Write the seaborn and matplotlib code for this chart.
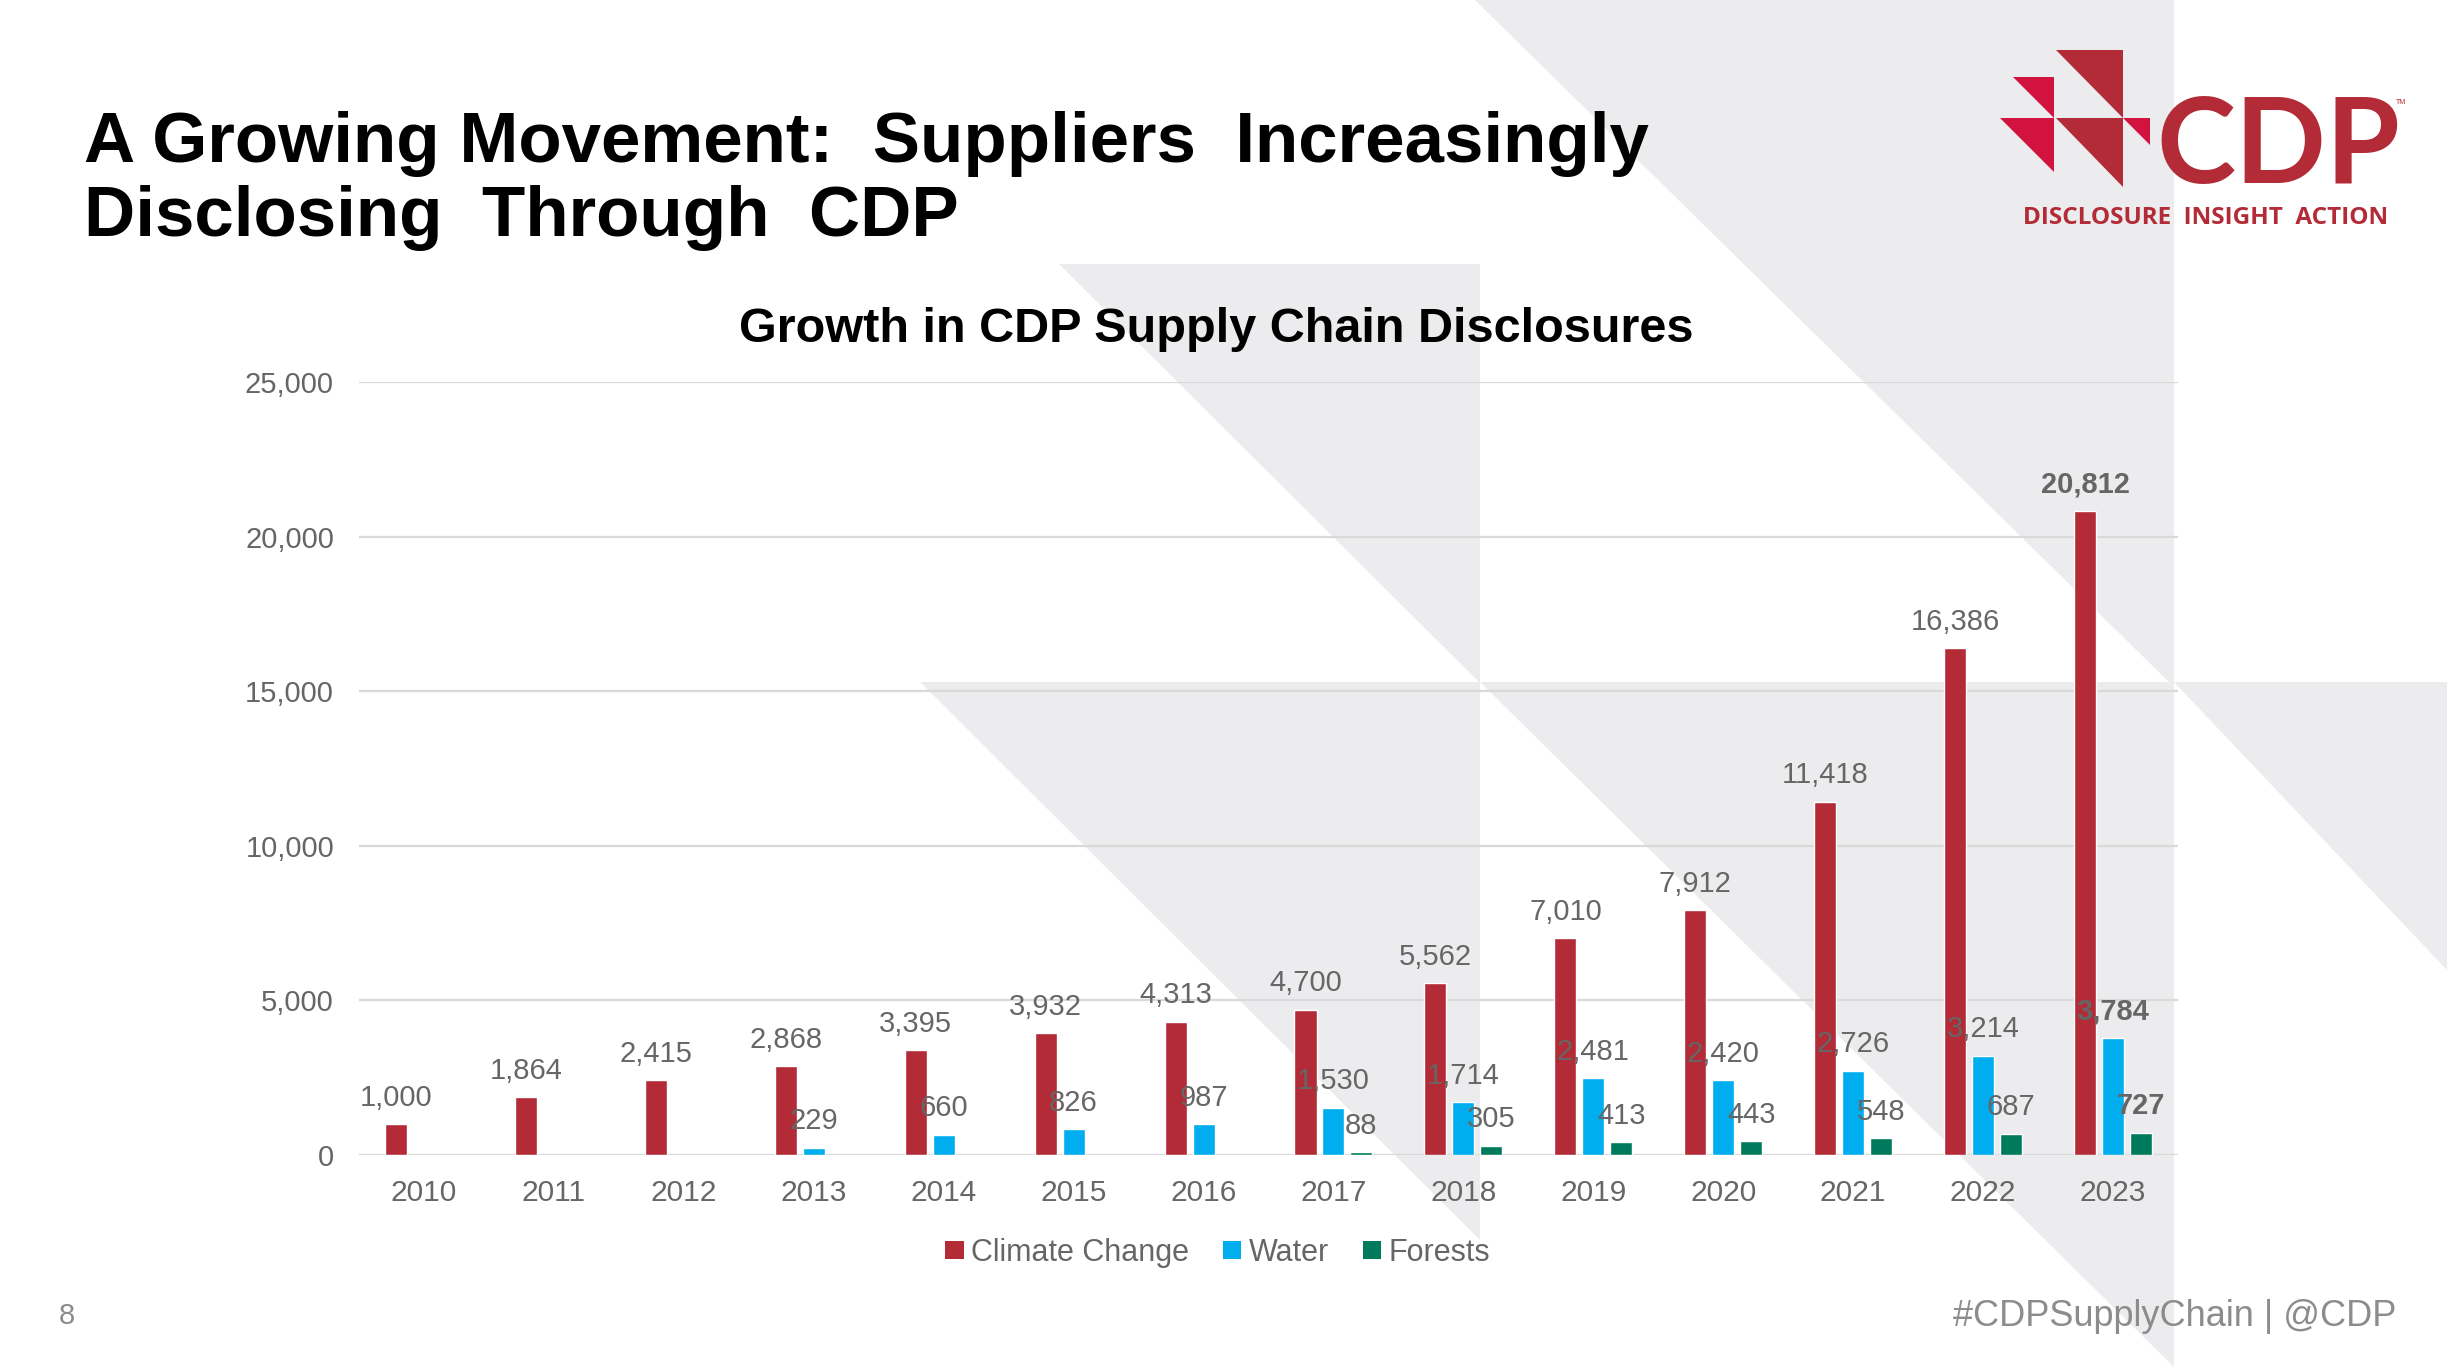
import matplotlib
matplotlib.use('Agg')
import matplotlib.pyplot as plt
from matplotlib import font_manager
from matplotlib.patches import Polygon, Patch
from matplotlib.ticker import FuncFormatter
import seaborn as sns
import pandas as pd

# Data
years = [str(y) for y in range(2010, 2024)]
climate_change = [1000, 1864, 2415, 2868, 3395, 3932, 4313, 4700, 5562, 7010, 7912, 11418, 16386, 20812]
water = [None, None, None, 229, 660, 826, 987, 1530, 1714, 2481, 2420, 2726, 3214, 3784]
forests = [None, None, None, None, None, None, None, 88, 305, 413, 443, 548, 687, 727]
series_names = ['Climate Change', 'Water', 'Forests']
colors = {'Climate Change': '#b22b36', 'Water': '#00aeef', 'Forests': '#007a5c'}

rows = []
for name, vals in zip(series_names, [climate_change, water, forests]):
    for yr, v in zip(years, vals):
        if v is not None:
            rows.append({'year': yr, 'series': name, 'count': v})
df = pd.DataFrame(rows)

sns.set_style('white')
names = {f.name for f in font_manager.fontManager.ttflist}
NARROW = 'Liberation Sans Narrow' if 'Liberation Sans Narrow' in names else 'Liberation Sans'
plt.rcParams['font.family'] = [NARROW, 'DejaVu Sans']

W, H = 2447, 1367
fig = plt.figure(figsize=(W / 100, H / 100), dpi=100)
fig.patch.set_facecolor('white')

# background decoration, pixel coordinates
bg = fig.add_axes([0, 0, 1, 1], zorder=0)
bg.set_xlim(0, W)
bg.set_ylim(H, 0)
bg.axis('off')
gray = '#ececee'
for tri in [
    [(1475, 0), (2174, 0), (2174, 687)],
    [(1059, 264), (1480, 264), (1480, 683)],
    [(920, 682), (1480, 682), (1480, 1240)],
    [(1480, 682), (2174, 682), (2174, 1367)],
    [(2174, 682), (2447, 682), (2447, 970)],
]:
    bg.add_patch(Polygon(tri, closed=True, facecolor=gray, edgecolor='none'))

# CDP logo
dark, crimson = '#b22b36', '#d3133f'
for tri, c in [
    ([(2056, 50), (2123, 50), (2123, 118)], dark),
    ([(2056, 118), (2123, 118), (2123, 187)], dark),
    ([(2013, 77), (2054, 77), (2054, 118)], crimson),
    ([(2000, 118), (2054, 118), (2054, 172)], crimson),
    ([(2123, 118), (2150, 118), (2150, 145)], crimson),
]:
    bg.add_patch(Polygon(tri, closed=True, facecolor=c, edgecolor='none'))
bg.text(2156, 183, 'CDP', fontsize=86, fontweight='bold', family='Lato',
        color=dark, va='baseline', ha='left')
bg.text(2396, 104, 'TM', fontsize=5, color=dark, va='baseline', ha='left')
bg.text(2023, 224, 'DISCLOSURE  INSIGHT  ACTION', fontsize=17.5, fontweight='bold',
        family='Open Sans', color=dark, va='baseline', ha='left')

# slide title
fig.text(84 / W, 1 - 236 / H, 'A Growing Movement:  Suppliers  Increasingly\nDisclosing  Through  CDP',
         fontsize=51, fontweight='bold', color='black', va='baseline', ha='left',
         linespacing=1.16)

# chart
ax = fig.add_axes([359 / W, 212 / H, 1819 / W, 773 / H], zorder=2)
ax.set_facecolor('none')
sns.barplot(data=df, x='year', y='count', hue='series', order=years,
            hue_order=series_names, palette=colors, width=0.645, gap=0.21,
            saturation=1, legend=False, ax=ax)

ax.set_ylim(0, 25000)
ax.set_yticks(range(0, 25001, 5000))
ax.yaxis.set_major_formatter(FuncFormatter(lambda v, p: f'{v:,.0f}'))
ax.grid(axis='y', color='#d9d9d9', linewidth=1.6)
ax.set_axisbelow(True)
for s in ax.spines.values():
    s.set_visible(False)
ax.tick_params(axis='y', length=0, pad=18, labelsize=21, labelcolor='#666666')
ax.tick_params(axis='x', length=0, pad=17, labelsize=21.5, labelcolor='#666666')
ax.set_xlabel('')
ax.set_ylabel('')

for cont in ax.containers:
    texts = ax.bar_label(cont, fmt='{:,.0f}', padding=9, fontsize=21, color='#666666')
    texts[-1].set_fontweight('bold')

fig.text(1216 / W, 1 - 342 / H, 'Growth in CDP Supply Chain Disclosures',
         fontsize=35, fontweight='bold', color='black', va='baseline', ha='center')

handles = [Patch(facecolor=colors[n], edgecolor='none', label=n) for n in series_names]
fig.legend(handles=handles, loc='center', bbox_to_anchor=(1218 / W, 1 - 1253 / H),
           ncol=3, frameon=False, fontsize=22, labelcolor='#666666',
           handlelength=0.6, handleheight=0.55, handletextpad=0.25, columnspacing=1.1)

# footer
fig.text(67 / W, 1 - 1316 / H, '8', fontsize=21, color='#8c8c8c', va='center', ha='center')
fig.text(2396 / W, 1 - 1316 / H, '#CDPSupplyChain | @CDP', fontsize=26, color='#8c8c8c',
         va='center', ha='right')

fig.savefig('out.png', dpi=100, facecolor='white')
